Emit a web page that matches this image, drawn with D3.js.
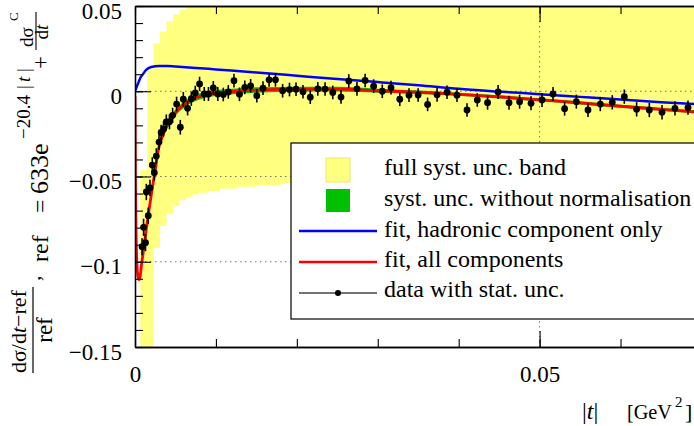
<!DOCTYPE html>
<html>
<head>
<meta charset="utf-8">
<script src="https://cdn.jsdelivr.net/npm/d3@7"></script>
<style>
  body { margin: 0; background: #fff; }
  svg { display: block; font-family: "Liberation Serif", "Times New Roman", serif; }
</style>
</head>
<body>
<svg id="chart" width="694" height="426"></svg>
<script>
// data points: |t| [GeV^2], relative difference, stat. unc.
const tData = [0.00087, 0.00106, 0.00130, 0.00140, 0.00164, 0.00185, 0.00214, 0.00239, 0.00263, 0.00297,
  0.00323, 0.00353, 0.00387, 0.00426, 0.00465, 0.00514, 0.00560, 0.00597, 0.00650, 0.00696,
  0.00745, 0.00798, 0.00856, 0.00908, 0.00968, 0.01023, 0.01091, 0.01153, 0.01223, 0.01291,
  0.01357, 0.01429, 0.01505, 0.01582, 0.01657, 0.01736, 0.01824, 0.01909, 0.01990, 0.02076,
  0.02166, 0.02259, 0.02349, 0.02444, 0.02546, 0.02642, 0.02743, 0.02844, 0.02949, 0.03056,
  0.03164, 0.03272, 0.03386, 0.03499, 0.03616, 0.03733, 0.03856, 0.03979, 0.04103, 0.04230,
  0.04357, 0.04487, 0.04622, 0.04753, 0.04894, 0.05030, 0.05166, 0.05309, 0.05454, 0.05598,
  0.05750, 0.05898, 0.06047, 0.06199, 0.06356, 0.06513, 0.06673, 0.06834];
const vData = [-0.0912, -0.0798, -0.0888, -0.0591, -0.0730, -0.0567, -0.0433, -0.0478, -0.0380, -0.0298,
  -0.0242, -0.0221, -0.0180, -0.0179, -0.0141, -0.0075, -0.0211, -0.0047, -0.0100, -0.0044,
  -0.0010, 0.0043, -0.0016, -0.0016, 0.0019, -0.0016, -0.0019, -0.0004, 0.0062, -0.0018,
  0.0023, 0.0032, -0.0026, 0.0018, 0.0067, 0.0067, 0.0003, 0.0010, 0.0012, -0.0003,
  -0.0035, 0.0014, 0.0013, -0.0007, -0.0034, 0.0060, 0.0014, 0.0063, 0.0030, 0.0000,
  0.0021, -0.0047, -0.0023, -0.0022, -0.0077, -0.0021, -0.0006, -0.0023, -0.0110, -0.0051,
  -0.0067, -0.0004, -0.0067, -0.0061, -0.0071, -0.0051, -0.0016, -0.0102, -0.0061, -0.0110,
  -0.0075, -0.0065, -0.0032, -0.0106, -0.0110, -0.0123, -0.0100, -0.0096];
const eData = [0.0050, 0.0050, 0.0050, 0.0048, 0.0048, 0.0048, 0.0046, 0.0046, 0.0046, 0.0045,
  0.0045, 0.0045, 0.0044, 0.0044, 0.0044, 0.0043, 0.0043, 0.0043, 0.0042, 0.0042,
  0.0042, 0.0042, 0.0041, 0.0041, 0.0041, 0.0041, 0.0040, 0.0040, 0.0040, 0.0040,
  0.0040, 0.0040, 0.0040, 0.0040, 0.0040, 0.0040, 0.0040, 0.0040, 0.0040, 0.0040,
  0.0040, 0.0040, 0.0040, 0.0040, 0.0040, 0.0040, 0.0040, 0.0040, 0.0040, 0.0040,
  0.0040, 0.0040, 0.0040, 0.0040, 0.0040, 0.0040, 0.0040, 0.0040, 0.0040, 0.0040,
  0.0041, 0.0041, 0.0041, 0.0041, 0.0041, 0.0041, 0.0041, 0.0041, 0.0041, 0.0041,
  0.0042, 0.0042, 0.0042, 0.0042, 0.0042, 0.0042, 0.0042, 0.0042];

// fit, all components (red) and its syst. unc. without normalisation (green half-width)
const fitT = [0, 0.00005, 0.00012, 0.0002, 0.0003, 0.00045, 0.0006, 0.0008, 0.00106, 0.0013,
  0.00168, 0.0021, 0.0025, 0.0029, 0.00353, 0.00436, 0.0052, 0.006, 0.0068, 0.0077,
  0.0089, 0.0101, 0.0125, 0.015, 0.02, 0.025, 0.03, 0.035, 0.04, 0.045,
  0.05, 0.055, 0.06, 0.065, 0.07, 0.08];
const fitAll = [-0.003, -0.05, -0.08, -0.097, -0.106, -0.1105, -0.1095, -0.102, -0.093, -0.084,
  -0.0714, -0.0579, -0.0462, -0.0340, -0.0247, -0.0169, -0.0114, -0.0081, -0.0055, -0.0035,
  -0.0020, -0.0010, 0.0000, 0.0007, 0.0012, 0.0012, 0.0003, -0.0006, -0.0018, -0.0033,
  -0.0050, -0.0068, -0.0088, -0.0106, -0.0124, -0.0160];
const fitSyst = [0, 0, 0, 0, 0, 0, 0.0030, 0.0028, 0.0026, 0.0025,
  0.0024, 0.0023, 0.0022, 0.0021, 0.0020, 0.0019, 0.0019, 0.0018, 0.0018, 0.0018,
  0.0017, 0.0017, 0.0016, 0.0016, 0.0015, 0.0014, 0.0012, 0.0010, 0.0009, 0.0009,
  0.0009, 0.0009, 0.0009, 0.0009, 0.0009, 0.0009];

// fit, hadronic component only (blue)
const hadT = [0, 0.0002, 0.0004, 0.00065, 0.001, 0.0013, 0.002, 0.003, 0.004, 0.005,
  0.0075, 0.01, 0.015, 0.02, 0.025, 0.03, 0.035, 0.04, 0.045, 0.05,
  0.055, 0.06, 0.065, 0.07, 0.08];
const hadVal = [0, 0.0025, 0.0048, 0.0078, 0.0101, 0.0122, 0.0142, 0.0148, 0.0148, 0.0145,
  0.0137, 0.0128, 0.0110, 0.0091, 0.0072, 0.0054, 0.0035, 0.0014, -0.0002, -0.0017,
  -0.0033, -0.0049, -0.0064, -0.0078, -0.0105];

// full syst. unc. band (bins start at bandT)
const bandT = [0.00065, 0.0015, 0.0023, 0.0031, 0.0039, 0.0047, 0.0055, 0.0063, 0.0071, 0.0079,
  0.009, 0.0105, 0.0125, 0.015, 0.018, 0.022, 0.027, 0.035, 0.05, 0.065, 0.08];
const bandHi = [-0.046, 0.013, 0.028, 0.035, 0.041, 0.045, 0.048, 0.0495, 0.051, 0.053,
  0.055, 0.056, 0.057, 0.058, 0.058, 0.058, 0.058, 0.058, 0.058, 0.058, 0.058];
const bandLo = [-0.16, -0.16, -0.092, -0.079, -0.072, -0.067, -0.064, -0.062, -0.0605, -0.0595,
  -0.0585, -0.0572, -0.056, -0.055, -0.054, -0.0535, -0.053, -0.0525, -0.052, -0.0515, -0.051];

const xMajor = [0, 0.05];
const xMinor = d3.range(0, 9).map(i => i / 100);
const yMajor = [-0.15, -0.1, -0.05, 0, 0.05];
const yMinor = d3.range(-15, 6).map(i => i / 100);
const yTickText = ['\u22120.15', '\u22120.1', '\u22120.05', '0', '0.05'];
const xTickText = ['0', '0.05'];
const gridY = [0, -0.05, -0.1];
const gridX = [0.05];
const legendLabels = ['full syst. unc. band', 'syst. unc. without normalisation',
  'fit, hadronic component only', 'fit, all components', 'data with stat. unc.'];

const cYellow = '#ffff80', cGreen = '#00c000', cBlue = '#0000ff', cRed = '#ff0000';

const svg = d3.select('#chart');
const padL = 135, padT = 6, padB = 347;

// scales
const x = d3.scaleLinear().domain([0, 0.08]).range([padL, padL + 0.08 * 8092]);
const y = d3.scaleLinear().domain([-0.15, 0.05]).range([padB, padT]);

svg.append('clipPath').attr('id', 'plotclip')
  .append('rect').attr('x', padL).attr('y', padT).attr('width', 700).attr('height', padB - padT);

const plot = svg.append('g').attr('clip-path', 'url(#plotclip)');

// yellow band
const band = bandT.map((t, i) => ({ t: t, lo: bandLo[i], hi: bandHi[i] }));
plot.append('path')
  .datum(band)
  .attr('fill', cYellow)
  .attr('d', d3.area().curve(d3.curveStepAfter)
    .x(d => x(d.t)).y0(d => y(d.lo)).y1(d => y(d.hi)));

// dotted grid
plot.selectAll('.gy').data(gridY).join('line')
  .attr('x1', padL).attr('x2', 700)
  .attr('y1', d => y(d)).attr('y2', d => y(d))
  .attr('stroke', '#777').attr('stroke-width', 1).attr('stroke-dasharray', '1.5,3.5');
plot.selectAll('.gx').data(gridX).join('line')
  .attr('x1', d => x(d)).attr('x2', d => x(d))
  .attr('y1', padT).attr('y2', padB)
  .attr('stroke', '#777').attr('stroke-width', 1).attr('stroke-dasharray', '1.5,3.5');

// green band around fit
const fit = fitT.map((t, i) => ({ t: t, v: fitAll[i], s: fitSyst[i] }));
plot.append('path')
  .datum(fit.filter(d => d.s > 0))
  .attr('fill', cGreen)
  .attr('d', d3.area().curve(d3.curveMonotoneX)
    .x(d => x(d.t)).y0(d => y(d.v - d.s)).y1(d => y(d.v + d.s)));

// hadronic fit
const had = hadT.map((t, i) => ({ t: t, v: hadVal[i] }));
plot.append('path')
  .datum(had)
  .attr('fill', 'none').attr('stroke', cBlue).attr('stroke-width', 2.5)
  .attr('d', d3.line().curve(d3.curveMonotoneX).x(d => x(d.t)).y(d => y(d.v)));

// full fit
plot.append('path')
  .datum(fit)
  .attr('fill', 'none').attr('stroke', cRed).attr('stroke-width', 2.8)
  .attr('d', d3.line().curve(d3.curveMonotoneX).x(d => x(d.t)).y(d => y(d.v)));

// data points with error bars
const pts = tData.map((t, i) => ({ t: t, v: vData[i], e: eData[i] }));
plot.selectAll('.err').data(pts).join('line')
  .attr('x1', d => x(d.t)).attr('x2', d => x(d.t))
  .attr('y1', d => y(d.v - d.e)).attr('y2', d => y(d.v + d.e))
  .attr('stroke', '#000').attr('stroke-width', 1.6);
plot.selectAll('.dot').data(pts).join('circle')
  .attr('cx', d => x(d.t)).attr('cy', d => y(d.v)).attr('r', 3.4)
  .attr('fill', '#000');

// legend
const lg = svg.append('g');
lg.append('rect').attr('x', 291).attr('y', 143).attr('width', 420).attr('height', 176)
  .attr('fill', '#fff').attr('stroke', '#000').attr('stroke-width', 1.2);
const rowY = [175, 206, 237, 267, 297];
lg.selectAll('.lt').data(legendLabels).join('text')
  .attr('x', 384).attr('y', (d, i) => rowY[i])
  .attr('font-size', 24).attr('fill', '#000').text(d => d);
lg.append('rect').attr('x', 326).attr('y', 158).attr('width', 24).attr('height', 24)
  .attr('fill', cYellow).attr('stroke', '#eee870').attr('stroke-width', 1);
lg.append('rect').attr('x', 326).attr('y', 189).attr('width', 24).attr('height', 23)
  .attr('fill', cGreen);
lg.append('line').attr('x1', 299).attr('x2', 377).attr('y1', 231).attr('y2', 231)
  .attr('stroke', cBlue).attr('stroke-width', 2.5);
lg.append('line').attr('x1', 299).attr('x2', 377).attr('y1', 262).attr('y2', 262)
  .attr('stroke', cRed).attr('stroke-width', 2.5);
lg.append('line').attr('x1', 299).attr('x2', 377).attr('y1', 293).attr('y2', 293)
  .attr('stroke', '#444').attr('stroke-width', 1.6);
lg.append('circle').attr('cx', 338).attr('cy', 293).attr('r', 3).attr('fill', '#000');

// axes (ticks inside)
const axG = svg.append('g');
axG.append('g').attr('transform', `translate(${padL},0)`)
  .call(d3.axisLeft(y).tickValues(yMinor).tickSize(-8).tickSizeOuter(0).tickFormat(''));
const yAxMajor = axG.append('g').attr('transform', `translate(${padL},0)`)
  .call(d3.axisLeft(y).tickValues(yMajor).tickSize(-16).tickSizeOuter(0).tickPadding(13)
    .tickFormat((d, i) => yTickText[i]));
axG.append('g').attr('transform', `translate(0,${padB})`)
  .call(d3.axisBottom(x).tickValues(xMinor).tickSize(-8).tickSizeOuter(0).tickFormat(''));
const xAxMajor = axG.append('g').attr('transform', `translate(0,${padB})`)
  .call(d3.axisBottom(x).tickValues(xMajor).tickSize(-16).tickSizeOuter(0)
    .tickFormat((d, i) => xTickText[i]));
axG.append('g').attr('transform', `translate(0,${padT})`)
  .call(d3.axisTop(x).tickValues(xMinor).tickSize(-8).tickSizeOuter(0).tickFormat(''));
axG.append('g').attr('transform', `translate(0,${padT})`)
  .call(d3.axisTop(x).tickValues(xMajor).tickSize(-16).tickSizeOuter(0).tickFormat(''));
axG.selectAll('.domain').attr('stroke', '#000').attr('stroke-width', 1.3);
axG.selectAll('.tick line').attr('stroke', '#000').attr('stroke-width', 1.1);
axG.selectAll('g').attr('font-family', null).attr('font-size', null);
axG.selectAll('.tick text').attr('font-size', 23).attr('fill', '#000');
yAxMajor.selectAll('.tick text').attr('dy', 12);
xAxMajor.selectAll('.tick text').attr('y', 35).attr('dy', 0);

// y axis title (rotated), pieces placed along the vertical
const lab = svg.append('g').attr('fill', '#000');
function vt(px, py, size) {
  return lab.append('text').attr('transform', `translate(${px},${py}) rotate(-90)`).attr('font-size', size);
}
const num = vt(26, 373, 22);
num.append('tspan').text('d\u03c3/d');
num.append('tspan').attr('font-style', 'italic').text('t');
num.append('tspan').text('\u2212ref');
lab.append('line').attr('x1', 33).attr('x2', 33).attr('y1', 373).attr('y2', 287)
  .attr('stroke', '#000').attr('stroke-width', 1.2);
vt(52, 330, 23).attr('text-anchor', 'middle').text('ref');
vt(40, 281, 22).text(',');
vt(48, 262, 24).text('ref');
vt(48, 213, 24).text('=');
vt(48, 194, 26).text('633e');
vt(30, 139, 19).text('\u221220.4');
vt(30, 89, 19).text('|');
vt(30, 82, 19).attr('font-style', 'italic').text('t');
vt(30, 72, 19).text('|');
vt(48, 69, 23).text('+');
vt(33, 47, 19).text('d\u03c3');
vt(18, 21, 13).text('C');
lab.append('line').attr('x1', 36).attr('x2', 36).attr('y1', 50).attr('y2', 12)
  .attr('stroke', '#000').attr('stroke-width', 1.1);
const den = vt(48, 32, 19).attr('text-anchor', 'middle');
den.append('tspan').text('d');
den.append('tspan').attr('font-style', 'italic').text('t');

// x axis title
const xl = svg.append('g').attr('fill', '#000');
const tt = xl.append('text').attr('x', 582).attr('y', 419).attr('font-size', 24);
tt.append('tspan').text('|');
tt.append('tspan').attr('font-style', 'italic').text('t');
tt.append('tspan').text('|');
xl.append('text').attr('x', 627).attr('y', 419).attr('font-size', 21)
  .attr('textLength', 45).attr('lengthAdjust', 'spacingAndGlyphs').text('[GeV');
xl.append('text').attr('x', 675).attr('y', 407).attr('font-size', 15).text('2');
xl.append('text').attr('x', 685).attr('y', 419).attr('font-size', 22).text(']');
</script>
</body>
</html>
